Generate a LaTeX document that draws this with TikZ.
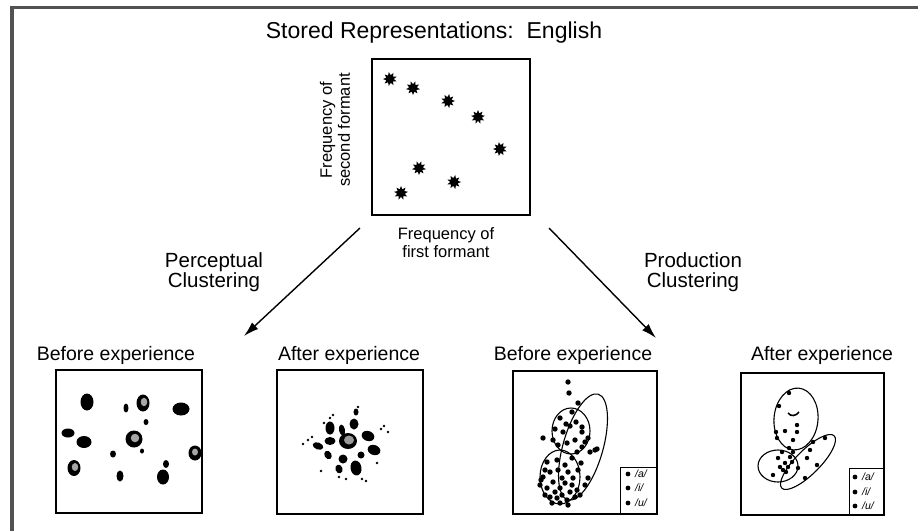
\documentclass[tikz,border=0pt]{standalone}
\usepackage{fontspec}
\setmainfont{Liberation Sans}
\usetikzlibrary{shapes.geometric,arrows.meta}

\begin{document}
\begin{tikzpicture}[x=1pt,y=-1pt,
  lbl/.style={font=\fontsize{19.5}{22}\selectfont, inner sep=0pt},
  axlbl/.style={font=\fontsize{16.5}{18}\selectfont, align=center, inner sep=0pt},
  clus/.style={font=\fontsize{20.5}{20}\selectfont, align=center, inner sep=0pt},
  tok/.style={star, star points=9, star point ratio=1.8, fill=black, inner sep=0pt, minimum size=14pt},
  arr/.style={-{Latex[length=15pt,width=9pt]}, line width=1.4pt},
  oval/.style={draw=black, line width=1.1pt},
  key/.style={font=\itshape\fontsize{10.5}{11}\selectfont, inner sep=0pt, anchor=west},
  frame/.style={draw=black!68, line width=3.5pt},
  panelbox/.style={draw=black, line width=1.3pt, inner sep=0pt}
]
\useasboundingbox (0,0) rectangle (918,531);

% outer frame (top and left edges)
\draw[frame] (12,7.5) -- (918,7.5);
\draw[frame] (12,6) -- (12,531);

% stored representations
\node[inner sep=0pt, font=\fontsize{23}{24}\selectfont] (title) at (434,33) {Stored Representations:\ \ English};
\node[draw=black, line width=1.8pt, minimum width=158pt, minimum height=156pt, inner sep=0pt] (rep) at (451,137) {};
\node[axlbl, rotate=90] (ylab) at (335,130) {Frequency of\\second formant};
\node[axlbl] (xlab) at (446,243) {Frequency of\\first formant};
\foreach \x/\y [count=\i] in {390/79, 413/88, 448/101, 478/117, 500/149, 419/168, 454/182, 401/193}
  \node[tok, rotate=10*\i] (t\i) at (\x,\y) {};

% branches
\coordinate (ls) at (360,228);
\coordinate (le) at (244,336);
\coordinate (rs) at (549,228);
\coordinate (re) at (656,338);
\draw[arr] (ls) -- (le);
\draw[arr] (rs) -- (re);
\node[clus] (perc) at (214,272) {Perceptual\\Clustering};
\node[clus] (prod) at (693,272) {Production\\Clustering};

% panel titles
\node[lbl] (h1) at (116,355) {Before experience};
\node[lbl] (h2) at (349,355) {After experience};
\node[lbl] (h3) at (573,355) {Before experience};
\node[lbl] (h4) at (822,355) {After experience};

% panels
\node[panelbox, minimum width=146pt, minimum height=143pt] (p1) at (129,441.5) {};
\node[panelbox, minimum width=146pt, minimum height=144pt] (p2) at (350,442) {};
\node[panelbox, minimum width=144pt, minimum height=143pt] (p3) at (585,442.5) {};
\node[panelbox, minimum width=143pt, minimum height=142pt] (p4) at (812.5,444) {};

% panel 1: scattered perceptual categories
\foreach \x/\y/\a/\b in {87/402/6.5/8.5, 181/409/8.5/6.5, 84/442/7.5/6, 163/477/6/7.5, 68/433/6.5/4.5,
  126/408/2.5/4.5, 146/422/2.5/3, 113/454/3/3.5, 142/451/2/2.5, 166/464/3/4, 120/476/3.5/5.5}
  \fill (\x,\y) ellipse [x radius=\a pt, y radius=\b pt];
\foreach \x/\y/\a/\b in {143/403/6.5/8.5, 134/439/8.5/8.5, 74/468/6.5/8}{
  \fill (\x,\y) ellipse [x radius=\a pt, y radius=\b pt];
  \fill[black!35] (\x+1,\y-1) ellipse [x radius=\a pt*0.5, y radius=\b pt*0.5];
}
\begin{scope}
  \clip (p1.south west) rectangle (p1.north east);
  \fill (195,453) ellipse [x radius=6.5pt, y radius=7.5pt];
  \fill[black!35] (195,452) ellipse [x radius=3pt, y radius=3.5pt];
\end{scope}

% panel 2: categories drawn in toward the prototype
\fill (348,441) ellipse [x radius=9pt, y radius=8pt];
\fill[black!40] (349,440) ellipse [x radius=5pt, y radius=4.5pt];
\foreach \x/\y/\a/\b/\r in {330/428/4.5/6.5/0, 330/441/5.5/4/0, 342/430/3/5.5/10, 354/424/4.5/5.5/0,
  356/412/2.5/3.5/0, 368/436/6.5/5/-20, 374/450/6.5/5/-20, 318/446/5.5/3.5/-20, 328/455/3.5/4.5/30,
  343/459/4.5/4.5/0, 339/469/3.5/4.5/20, 356/468/5.5/7.5/10, 361/455/3.5/3.5/0}
  \fill[rotate around={\r:(\x,\y)}] (\x,\y) ellipse [x radius=\a pt, y radius=\b pt];
\foreach \x/\y in {308/440, 312/437, 381/429, 384/426, 362/479, 366/481, 330/418, 333/415,
  321/471, 377/463, 358/407, 346/479, 339/477, 324/423, 303/444, 388/432}
  \fill (\x,\y) circle [radius=1.3pt];

% panel 3: overlapping production clusters
\draw[oval] (571,431) ellipse [x radius=19pt, y radius=23pt];
\draw[oval] (560,477) ellipse [x radius=20pt, y radius=27pt];
\draw[oval, rotate around={74:(583,447)}] (583,447) ellipse [x radius=55pt, y radius=20pt];
\foreach \x/\y in {568/382, 569/393, 543/438,
  578/403, 572/412, 576/422, 582/427, 582/432, 555/429, 563/432, 575/440, 567/443, 588/438,
  582/447, 558/445, 595/450, 590/452, 597/449, 572/458, 547/462, 558/470, 568/472, 578/470,
  543/477, 553/482, 565/483, 572/485, 547/488, 555/492, 562/495, 570/492, 577/490, 550/497,
  557/498, 567/500, 575/497, 562/478, 550/472, 585/485, 540/485, 545/495, 552/503, 560/503,
  568/505, 580/495, 573/478, 557/460, 565/465, 545/470, 560/488, 581/463, 560/418, 566/424,
  553/440, 577/452, 585/442, 570/426, 541/480, 588/478}
  \fill (\x,\y) circle [radius=2.7pt];
\node[draw=black, line width=1pt, minimum width=37pt, minimum height=47pt, inner sep=0pt] (k3) at (638.5,490.5) {};
\foreach \y/\s [count=\i] in {474/a, 488/i, 503/u}{
  \fill (628,\y) circle [radius=2.4pt];
  \node[key] (k3\i) at (635,\y) {/\s/};
}

% panel 4: production clusters after experience
\draw[oval, rotate around={-5:(796,419)}] (796,419) ellipse [x radius=22pt, y radius=31pt];
\draw[oval] (778,466) ellipse [x radius=20pt, y radius=16pt];
\draw[oval, rotate around={45:(808,462)}] (808,462) ellipse [x radius=37pt, y radius=12pt];
\draw[line width=1.6pt] (788,413) .. controls (791,417) and (796,416) .. (799,412);
\foreach \x/\y in {789/393, 779/406, 797/425, 785/431, 776/432, 797/432, 777/438, 793/440,
  789/448, 782/452, 778/458, 790/457, 785/463, 780/467, 788/467, 798/468, 773/475, 783/470,
  817/465, 810/450, 825/438, 807/458, 805/478, 813/442, 793/452, 786/472, 792/462}
  \fill (\x,\y) circle [radius=2.2pt];
\node[draw=black, line width=1pt, minimum width=35pt, minimum height=47pt, inner sep=0pt] (k4) at (866.5,491.5) {};
\foreach \y/\s [count=\i] in {477/a, 492/i, 506/u}{
  \fill (855,\y) circle [radius=2.4pt];
  \node[key] (k4\i) at (862,\y) {/\s/};
}
\end{tikzpicture}
\end{document}
